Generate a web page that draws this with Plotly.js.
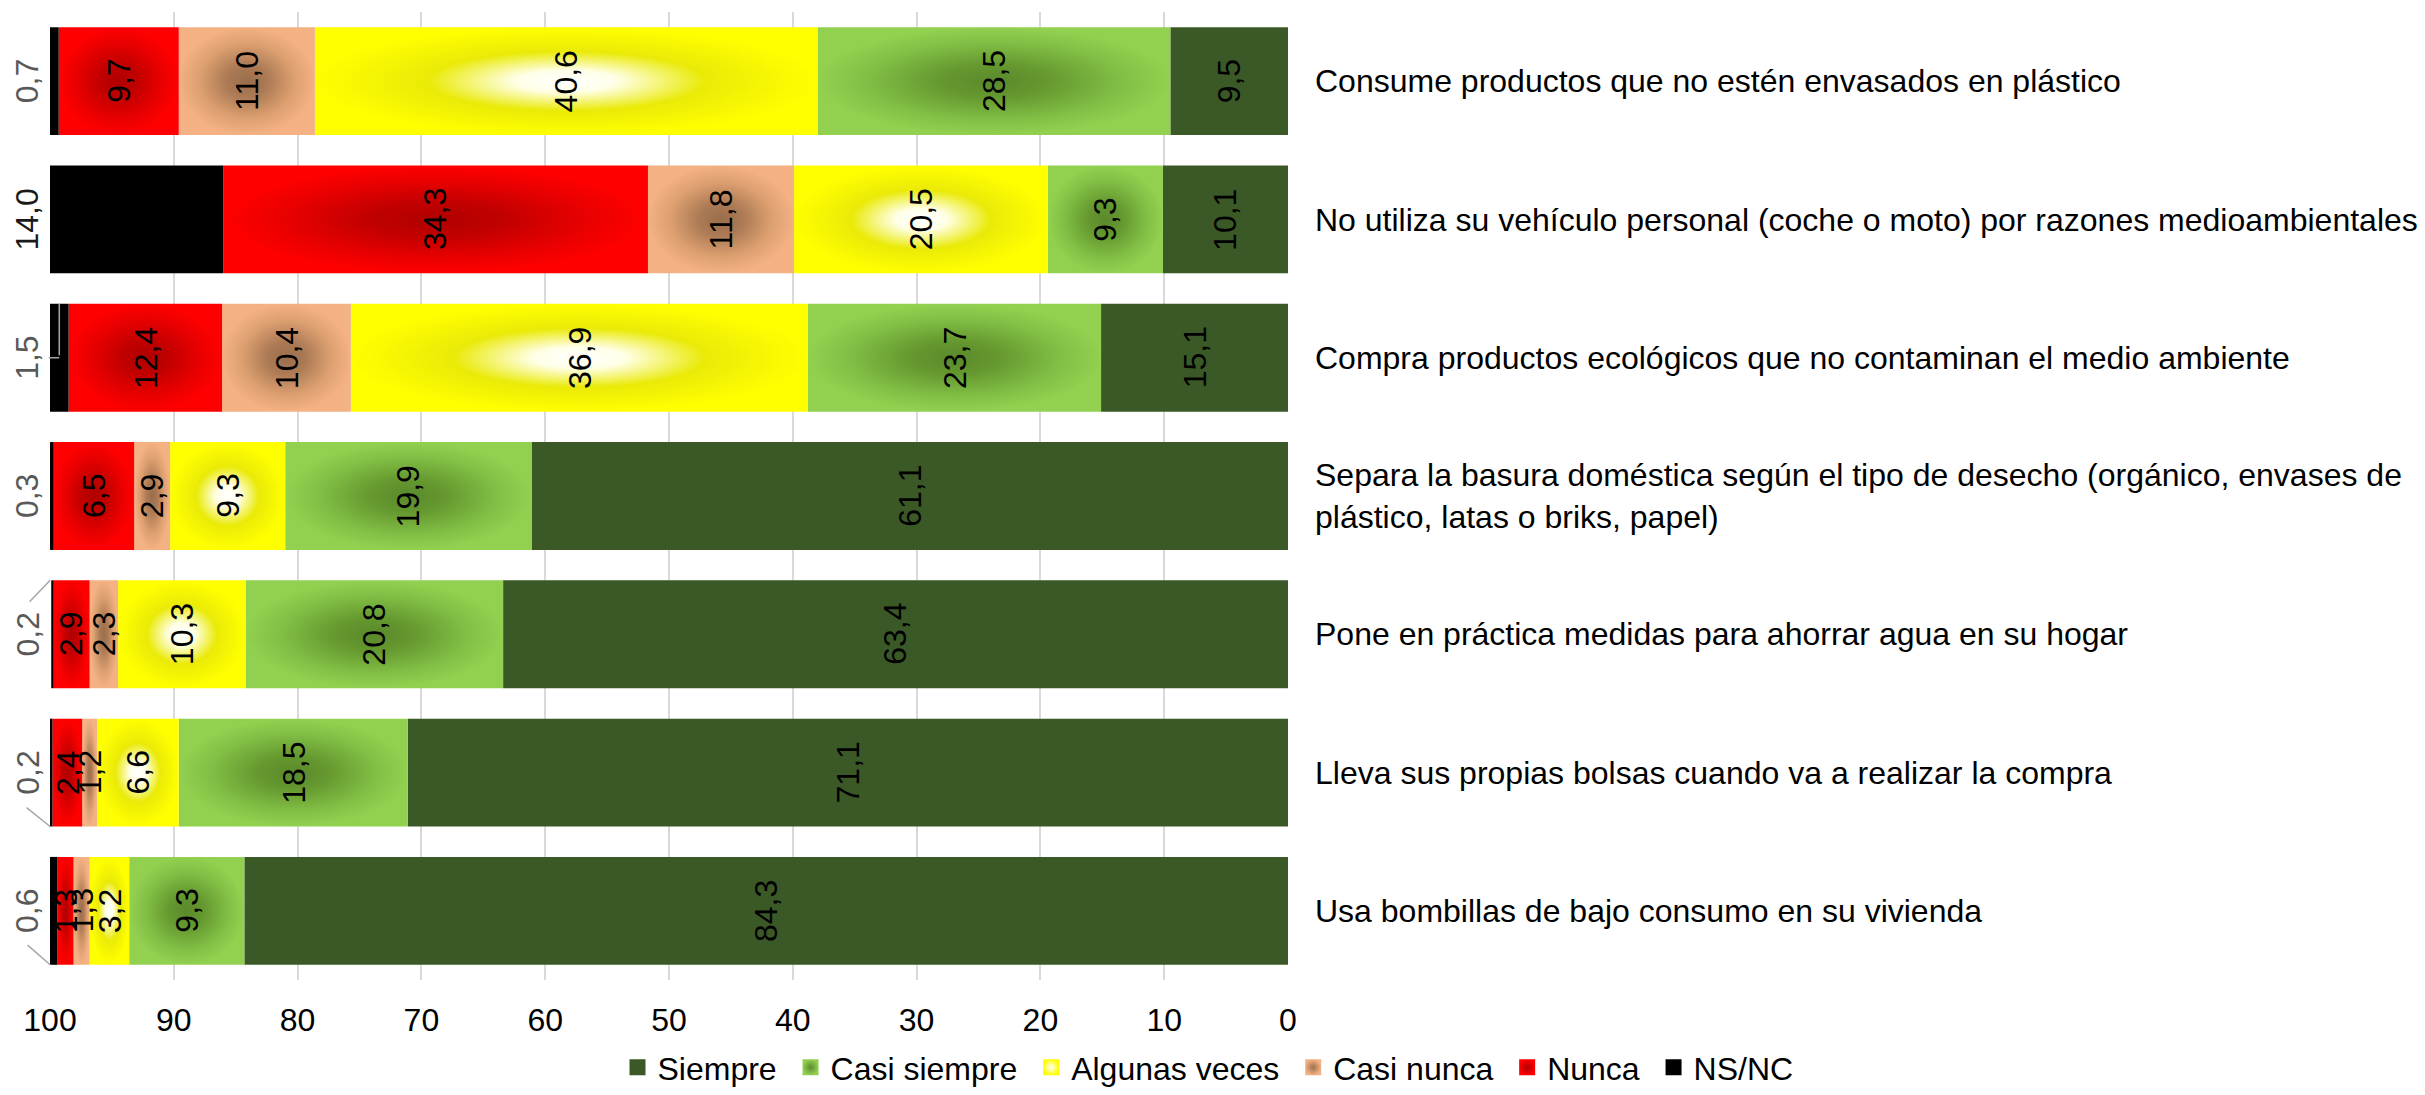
<!DOCTYPE html>
<html>
<head>
<meta charset="utf-8">
<script src="https://cdn.plot.ly/plotly-3.0.1.min.js"></script>
<style>
  html, body { margin: 0; padding: 0; background: #fff; }
  #chart { width: 2425px; height: 1095px; }
</style>
</head>
<body>
<div id="chart"></div>
<script>
// categories, top to bottom
const categories = [
    "Consume productos que no estén envasados en plástico",
    "No utiliza su vehículo personal (coche o moto) por razones medioambientales",
    "Compra productos ecológicos que no contaminan el medio ambiente",
    "Separa la basura doméstica según el tipo de desecho (orgánico, envases de<br>plástico, latas o briks, papel)",
    "Pone en práctica medidas para ahorrar agua en su hogar",
    "Lleva sus propias bolsas cuando va a realizar la compra",
    "Usa bombillas de bajo consumo en su vivienda"
];

const seriesNames = ["Siempre", "Casi siempre", "Algunas veces", "Casi nunca", "Nunca", "NS/NC"];

// series values (%)
const siempre      = [9.5, 10.1, 15.1, 61.1, 63.4, 71.1, 84.3];
const casiSiempre  = [28.5, 9.3, 23.7, 19.9, 20.8, 18.5, 9.3];
const algunasVeces = [40.6, 20.5, 36.9, 9.3, 10.3, 6.6, 3.2];
const casiNunca    = [11.0, 11.8, 10.4, 2.9, 2.3, 1.2, 1.3];
const nunca        = [9.7, 34.3, 12.4, 6.5, 2.9, 2.4, 1.3];
const nsnc         = [0.7, 14.0, 1.5, 0.3, 0.2, 0.2, 0.6];

const xTickVals = [100, 90, 80, 70, 60, 50, 40, 30, 20, 10, 0];

const allSeries = [siempre, casiSiempre, algunasVeces, casiNunca, nunca, nsnc];

// colours: edge colour + radial gradient (center -> edge)
const styles = [
    {edge: "#3B5926", center: null, scale: null},
    {edge: "#92D050", center: "#5C8B2D", scale: [[0, "#5A892C"], [0.3, "#65982F"], [0.7, "#80BD44"], [1, "#92D050"]]},
    {edge: "#FFFF00", center: "#FFFFFF", scale: [[0, "#FFFFFF"], [0.2, "#FFFFE8"], [0.55, "#EAEA08"], [1, "#FFFF00"]]},
    {edge: "#F4B183", center: "#9C704D", scale: [[0, "#9A6E4C"], [0.3, "#AC7A55"], [0.7, "#DDA070"], [1, "#F4B183"]]},
    {edge: "#FF0000", center: "#B20000", scale: [[0, "#B00000"], [0.3, "#C00000"], [0.7, "#E80000"], [1, "#FF0000"]]},
    {edge: "#000000", center: null, scale: null}
];

const fontFamily = "Liberation Sans, Arial, sans-serif";
const fontSize = 32;
const half = 0.39;
const leaderColor = "#A6A6A6";

function fmt(v) {
    return v.toFixed(1).replace(".", ",");
}

let traces = [];
let annotations = [];

// legend entries
seriesNames.forEach((name, s) => {
    let marker = {symbol: "square", size: 16, color: styles[s].edge};
    if (styles[s].center) {
        marker.gradient = {type: "radial", color: styles[s].center};
    }
    traces.push({
        type: "scatter",
        mode: "markers",
        x: [null],
        y: [null],
        name: name + "\u00A0",
        marker: marker,
        hoverinfo: "skip"
    });
});

// one filled shape per segment, so each gets its own radial gradient
categories.forEach((cat, i) => {
    let start = 0;
    allSeries.forEach((vals, s) => {
        const v = vals[i];
        const end = start + v;
        let t = {
            type: "scatter",
            mode: "lines",
            x: [start, end, end, start, start],
            y: [i - half, i - half, i + half, i + half, i - half],
            fill: "toself",
            fillcolor: styles[s].edge,
            line: {width: 0, color: styles[s].edge},
            hoverinfo: "skip",
            showlegend: false
        };
        if (styles[s].scale) {
            t.fillgradient = {type: "radial", colorscale: styles[s].scale};
        }
        traces.push(t);

        if (s < allSeries.length - 1) {
            annotations.push({
                x: (start + end) / 2,
                y: i,
                xref: "x",
                yref: "y",
                text: fmt(v),
                textangle: -90,
                showarrow: false,
                font: {family: fontFamily, size: fontSize, color: "#000000"}
            });
        } else {
            // NS/NC outside, left of the bar
            annotations.push({
                x: Math.min(end, 99.99),
                y: i,
                xref: "x",
                yref: "y",
                xshift: -23,
                text: fmt(v),
                textangle: -90,
                showarrow: false,
                font: {family: fontFamily, size: fontSize, color: v >= 10 ? "#1A1A1A" : "#595959"}
            });
        }
        start = end;
    });
});

// leader lines for the small NS/NC labels
function leader(x, y, ax, ay) {
    annotations.push({
        x: x, y: y, xref: "x", yref: "y",
        text: "",
        showarrow: true,
        arrowhead: 0,
        arrowwidth: 1.5,
        arrowcolor: leaderColor,
        ax: ax, ay: ay,
        standoff: 0,
        startstandoff: 0
    });
}
leader(100 - nsnc[2] / 2, 2 - half, 0, 53);
leader(100 - nsnc[2] / 2, 2, -12, 0);
leader(99.99, 4 - half, -22, 23);
leader(99.99, 5 + half, -25, -20);
leader(99.99, 6 + half, -24, -21);

let layout = {
    width: 2425,
    height: 1095,
    paper_bgcolor: "#ffffff",
    plot_bgcolor: "#ffffff",
    margin: {l: 50, r: 1137, t: 12, b: 115},
    font: {family: fontFamily, size: fontSize, color: "#000000"},
    showlegend: true,
    legend: {
        orientation: "h",
        xref: "container",
        yref: "container",
        x: 0.5,
        xanchor: "center",
        y: 0,
        yanchor: "bottom",
        font: {family: fontFamily, size: fontSize, color: "#000000"},
        itemwidth: 30,
        tracegroupgap: 0
    },
    xaxis: {
        range: [100, 0],
        tickvals: xTickVals,
        ticktext: xTickVals.map(String),
        showgrid: true,
        gridcolor: "#D9D9D9",
        gridwidth: 2,
        zeroline: false,
        showline: false,
        ticks: "",
        ticklabelstandoff: 18,
        tickfont: {family: fontFamily, size: fontSize, color: "#000000"},
        fixedrange: true
    },
    yaxis: {
        range: [6.5, -0.5],
        tickvals: categories.map((c, i) => i),
        ticktext: categories,
        side: "right",
        showgrid: false,
        zeroline: false,
        showline: false,
        ticks: "",
        ticklabelstandoff: 26,
        tickfont: {family: fontFamily, size: fontSize, color: "#000000"},
        fixedrange: true
    },
    annotations: annotations
};

Plotly.newPlot("chart", traces, layout, {displayModeBar: false, staticPlot: true});
</script>
</body>
</html>
